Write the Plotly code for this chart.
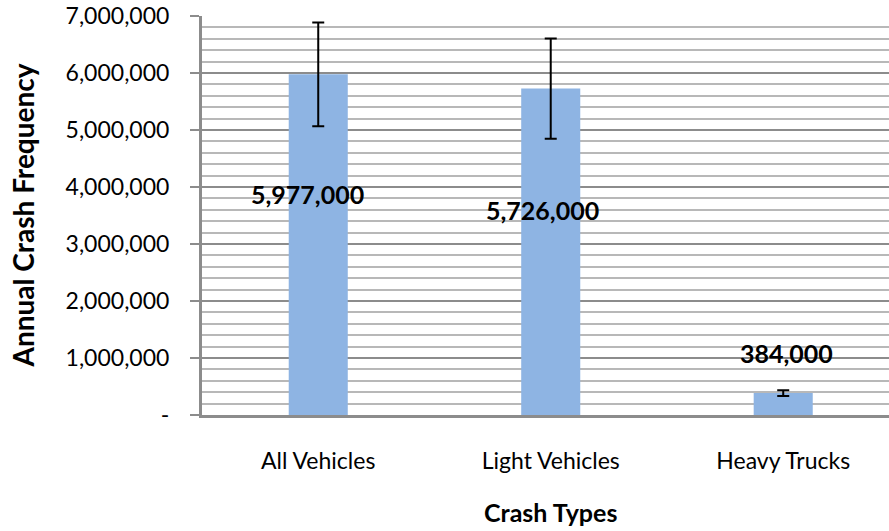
import plotly.graph_objects as go

# crash frequency by vehicle type (annual)
categories = ["All Vehicles", "Light Vehicles", "Heavy Trucks"]
crashes = [5977000, 5726000, 384000]
error_bars = [910000, 880000, 50000]
value_labels = ["5,977,000", "5,726,000", "384,000"]

y_tickvals = [0, 1000000, 2000000, 3000000, 4000000, 5000000, 6000000, 7000000]
y_ticktext = ["-", "1,000,000", "2,000,000", "3,000,000", "4,000,000",
              "5,000,000", "6,000,000", "7,000,000"]

# where the data labels sit (data-y, pixel x shift), as placed in the original chart
LABEL_Y = [3877000, 3596000, 1096000]
LABEL_XSHIFT = [-11, -8, 3]

FONT = "Lato, Carlito, Calibri, sans-serif"
BAR_COLOR = "#8EB4E3"
AXIS_GRAY = "#8c8c8c"

fig = go.Figure()
fig.add_trace(go.Bar(
    x=list(range(len(categories))),
    y=crashes,
    width=0.254,
    marker_color=BAR_COLOR,
    marker_line_width=0,
    error_y=dict(type="data", array=error_bars, visible=True,
                 color="black", thickness=2, width=6),
    hoverinfo="skip",
))

for i, (txt, ly, dx) in enumerate(zip(value_labels, LABEL_Y, LABEL_XSHIFT)):
    fig.add_annotation(x=i, y=ly, text=f"<b>{txt}</b>", showarrow=False,
                       xshift=dx, font=dict(family=FONT, size=25, color="black"))

fig.add_annotation(xref="paper", yref="paper", x=-0.2606, y=0.5,
                   text="<b>Annual Crash Frequency</b>", textangle=-90,
                   showarrow=False, xanchor="center", yanchor="middle",
                   font=dict(family=FONT, size=28, color="black"))
fig.add_annotation(xref="paper", yref="paper", x=0.508, y=-0.243,
                   text="<b>Crash Types</b>", showarrow=False,
                   xanchor="center", yanchor="middle",
                   font=dict(family=FONT, size=25, color="black"))

fig.update_layout(
    width=889, height=531,
    margin=dict(l=202, r=0, t=16, b=116),
    plot_bgcolor="white", paper_bgcolor="white",
    showlegend=False,
    font=dict(family=FONT, color="black"),
    xaxis=dict(
        range=[-0.5, 2.455],
        tickvals=list(range(len(categories))),
        ticktext=categories,
        ticks="",
        showgrid=False,
        showline=True, linecolor=AXIS_GRAY, linewidth=3,
        tickfont=dict(family=FONT, size=23, color="black"),
        ticklabelstandoff=23,
        zeroline=False,
        automargin=False,
    ),
    yaxis=dict(
        range=[0, 7000000],
        tickvals=y_tickvals,
        ticktext=y_ticktext,
        ticks="outside", ticklen=9, tickwidth=2, tickcolor=AXIS_GRAY,
        showline=True, linecolor=AXIS_GRAY, linewidth=3,
        showgrid=True, gridcolor=AXIS_GRAY, gridwidth=2,
        minor=dict(dtick=200000, showgrid=True, gridcolor="#b8b8b8", gridwidth=1.5),
        tickfont=dict(family=FONT, size=23, color="black"),
        ticklabelstandoff=16,
        zeroline=False,
        automargin=False,
    ),
)

# drop the default 8px body margin so the figure sits flush in the window
fig.write_html("out.html", config={"displayModeBar": False},
               post_script="document.body.style.margin='0';")
